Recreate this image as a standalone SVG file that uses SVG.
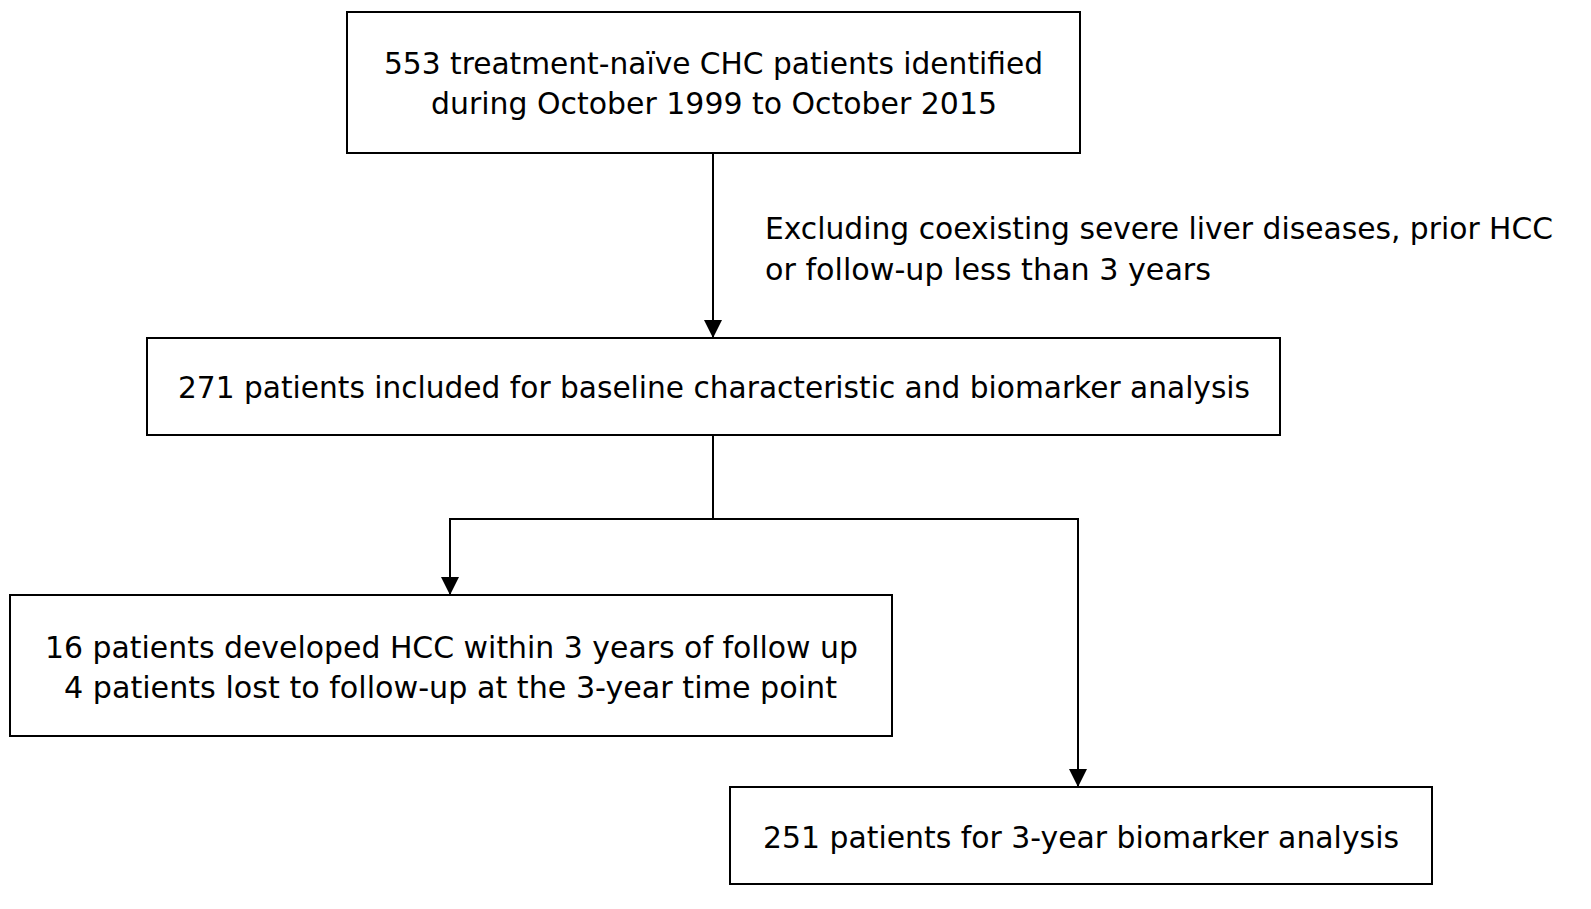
<svg xmlns="http://www.w3.org/2000/svg" width="1591" height="909" viewBox="0 0 1591 909">
<defs>
<style>
.box{fill:#fff;stroke:#000;stroke-width:2}
.ln{fill:none;stroke:#000;stroke-width:2}
text{font-family:"DejaVu Sans","Liberation Sans",sans-serif;font-size:30px;fill:#000}
.c{text-anchor:middle}
</style>
<marker id="ah" markerWidth="18" markerHeight="18" refX="17" refY="9" orient="auto" markerUnits="userSpaceOnUse">
<path d="M0,0 L18,9 L0,18 Z" fill="#000"/>
</marker>
</defs>
<rect width="1591" height="909" fill="#fff"/>
<g id="connectors">
<line class="ln" x1="713" y1="153" x2="713" y2="337" marker-end="url(#ah)"/>
<polyline class="ln" points="713,435 713,519 450,519 450,594" marker-end="url(#ah)"/>
<polyline class="ln" points="713,519 1078,519 1078,786" marker-end="url(#ah)"/>
</g>
<g id="n1">
<rect class="box" x="347" y="12" width="733" height="141"/>
<text x="384" y="74" textLength="659" lengthAdjust="spacingAndGlyphs">553 treatment-naïve CHC patients identified</text>
<text x="431" y="114" textLength="566" lengthAdjust="spacingAndGlyphs">during October 1999 to October 2015</text>
</g>
<g id="excl">
<text x="765" y="239" textLength="788" lengthAdjust="spacingAndGlyphs">Excluding coexisting severe liver diseases, prior HCC</text>
<text x="765" y="280" textLength="446" lengthAdjust="spacingAndGlyphs">or follow-up less than 3 years</text>
</g>
<g id="n2">
<rect class="box" x="147" y="338" width="1133" height="97"/>
<text x="178" y="398" textLength="1072" lengthAdjust="spacingAndGlyphs">271 patients included for baseline characteristic and biomarker analysis</text>
</g>
<g id="n3">
<rect class="box" x="10" y="595" width="882" height="141"/>
<text x="45" y="658" textLength="813" lengthAdjust="spacingAndGlyphs">16 patients developed HCC within 3 years of follow up</text>
<text x="64" y="698" textLength="773" lengthAdjust="spacingAndGlyphs">4 patients lost to follow-up at the 3-year time point</text>
</g>
<g id="n4">
<rect class="box" x="730" y="787" width="702" height="97"/>
<text x="763" y="848" textLength="636" lengthAdjust="spacingAndGlyphs">251 patients for 3-year biomarker analysis</text>
</g>
</svg>
